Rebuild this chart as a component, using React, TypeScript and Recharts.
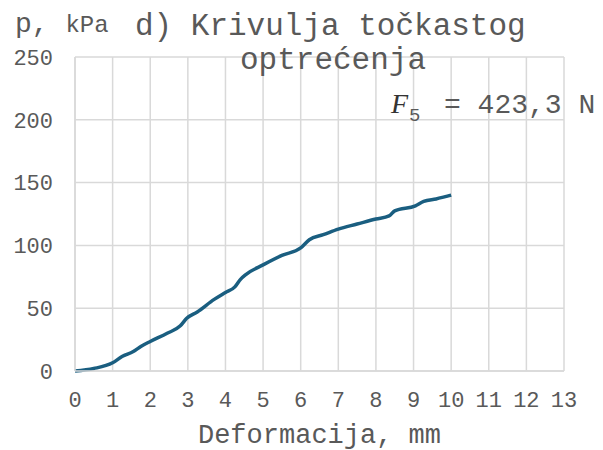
import React from "react";
import { LineChart, Line, XAxis, YAxis, CartesianGrid } from "recharts";

const deformation = [0, 0.5, 1, 1.25, 1.55, 1.75, 2, 2.45, 2.8, 2.97, 3.25, 3.7, 4, 4.25, 4.4, 4.55, 5, 5.5, 6, 6.23, 6.6, 7, 7.5, 8, 8.35, 8.5, 9.05, 9.27, 9.6, 10];
const pressure = [0, 2, 6.5, 11.5, 15.5, 19.5, 23.5, 30, 36, 42, 47, 57, 62.5, 67, 73, 77, 84.5, 92, 98, 104.5, 108.5, 113, 117, 121, 123.5, 127.5, 131.5, 135, 137, 140];
const xTicks = [0, 1, 2, 3, 4, 5, 6, 7, 8, 9, 10, 11, 12, 13];
const yTicks = [0, 50, 100, 150, 200, 250];

const titleLine1 = "d) Krivulja točkastog";
const titleLine2 = "optrećenja";
const yLabelMain = "p, ";
const yLabelUnit = "kPa";
const xLabel = "Deformacija, mm";
const forceSymbol = "F";
const forceSub = "5";
const forceValue = "= 423,3 N";

const data = deformation.map((x, i) => ({ x, p: pressure[i] }));

const mono = "'Liberation Mono', 'Courier New', monospace";
const textColor = "#595959";
const gridColor = "#d9d9d9";

export default function App() {
  return (
    <div style={{ position: "absolute", left: 0, top: 0, width: 603, height: 450, background: "#fff" }}>
      <LineChart
        width={603}
        height={450}
        data={data}
        margin={{ top: 57, right: 39, left: 0, bottom: 0 }}
      >
        <CartesianGrid stroke={gridColor} strokeWidth={1.5} horizontalValues={yTicks} verticalValues={xTicks} />
        <XAxis
          dataKey="x"
          type="number"
          domain={[0, 13]}
          ticks={xTicks}
          interval={0}
          height={79}
          tickLine={false}
          tickSize={0}
          tickMargin={20}
          axisLine={{ stroke: gridColor, strokeWidth: 1.5 }}
          tick={{ fill: textColor, fontSize: 22, fontFamily: mono }}
        />
        <YAxis
          type="number"
          domain={[0, 250]}
          ticks={yTicks}
          interval={0}
          width={75}
          tickLine={false}
          tickSize={0}
          tickMargin={22}
          axisLine={{ stroke: gridColor, strokeWidth: 1.5 }}
          tick={{ fill: textColor, fontSize: 22, fontFamily: mono }}
        />
        <Line
          dataKey="p"
          type="monotone"
          stroke="#1a5e80"
          strokeWidth={3.5}
          dot={false}
          isAnimationActive={false}
        />
      </LineChart>
      <svg width={603} height={450} style={{ position: "absolute", left: 0, top: 0, pointerEvents: "none" }}>
        <text x={15} y={32} fill={textColor} fontFamily={mono}>
          <tspan fontSize={28}>{yLabelMain}</tspan>
          <tspan fontSize={24}>{yLabelUnit}</tspan>
        </text>
        <text x={135} y={35} fill={textColor} fontFamily={mono} fontSize={31}>{titleLine1}</text>
        <text x={240} y={69} fill={textColor} fontFamily={mono} fontSize={31}>{titleLine2}</text>
        <text x={391} y={113} fill="#333" fontFamily="'Liberation Serif', serif" fontStyle="italic" fontSize={28}>{forceSymbol}</text>
        <text x={409} y={121} fill={textColor} fontFamily={mono} fontSize={19}>{forceSub}</text>
        <text x={444} y={113} fill={textColor} fontFamily={mono} fontSize={28}>{forceValue}</text>
        <text x={319.5} y={443} fill={textColor} fontFamily={mono} fontSize={27} textAnchor="middle">{xLabel}</text>
      </svg>
    </div>
  );
}
